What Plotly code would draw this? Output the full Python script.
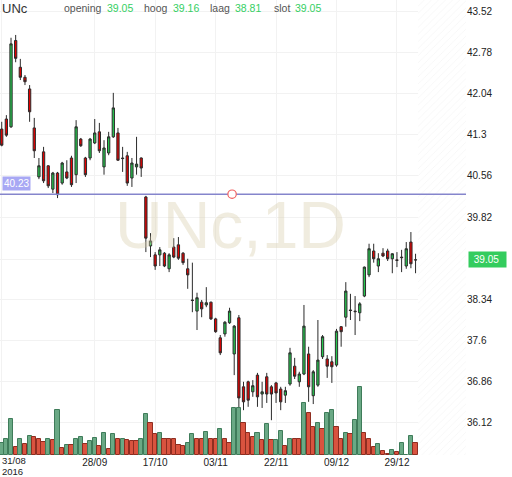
import plotly.graph_objects as go

# ---------------- data ----------------
tick_idx = [0, 20, 33, 46, 59, 72, 85]
tick_lbl = ["31/08", "28/09", "17/10", "03/11", "22/11", "09/12", "29/12"]
first_year = "2016"

opens = [41.40, 41.58, 41.44, 42.99, 42.51, 42.33, 42.12, 41.42, 40.54, 40.99,
         40.74, 40.32, 40.61, 40.43, 40.63, 40.88, 40.58, 41.22, 40.88, 40.88,
         41.15, 41.35, 40.72, 40.97, 41.26, 41.33, 40.88, 40.92, 40.52, 40.72,
         40.88, 40.18, 39.30, 39.14, 39.14, 39.17, 38.89, 39.28, 39.32, 39.17,
         38.89, 38.33, 38.13, 38.29, 38.24, 38.29, 37.99, 37.65, 37.72, 37.92,
         37.36, 38.01, 36.77, 36.86, 36.68, 36.98, 36.64, 36.95, 36.77, 36.84,
         36.73, 36.62, 36.82, 37.14, 36.86, 37.00, 37.36, 36.61, 36.80, 37.31,
         37.27, 37.22, 37.16, 37.85, 38.02, 38.15, 38.13, 38.10, 38.40, 38.78,
         39.21, 38.94, 39.17, 39.21, 39.07, 39.05, 39.10, 38.94, 39.37, 39.05]
highs = [41.53, 41.65, 43.04, 43.09, 42.66, 42.37, 42.19, 41.60, 40.88, 41.08,
         40.75, 40.63, 40.63, 40.81, 40.84, 40.92, 41.56, 41.24, 40.90, 41.24,
         41.58, 41.51, 41.20, 41.35, 42.05, 41.42, 41.08, 40.99, 40.88, 41.26,
         40.89, 40.20, 39.53, 39.19, 39.28, 39.19, 39.17, 39.44, 39.46, 39.19,
         39.07, 39.00, 38.46, 38.33, 38.56, 38.30, 38.01, 37.70, 37.95, 38.19,
         37.88, 38.06, 36.86, 36.88, 36.89, 37.02, 36.86, 37.02, 36.80, 36.86,
         36.77, 36.77, 37.47, 37.29, 37.04, 38.24, 37.49, 37.07, 37.97, 37.70,
         37.34, 37.32, 37.81, 37.86, 38.65, 38.44, 38.40, 38.29, 38.93, 39.34,
         39.34, 39.17, 39.26, 39.25, 39.17, 39.19, 39.23, 39.37, 39.55, 39.16]
lows = [41.09, 41.26, 41.42, 42.60, 42.28, 42.19, 41.53, 40.88, 40.50, 40.43,
        40.34, 40.25, 40.16, 40.40, 40.50, 40.36, 40.43, 41.08, 40.54, 40.84,
        41.13, 40.97, 40.58, 40.93, 41.24, 40.83, 40.63, 40.38, 40.36, 40.58,
        40.54, 39.19, 39.10, 38.87, 38.94, 38.92, 38.83, 39.08, 39.05, 38.96,
        38.53, 38.11, 37.79, 38.02, 38.20, 37.97, 37.74, 37.34, 37.67, 37.90,
        36.98, 36.17, 36.35, 36.41, 36.59, 36.41, 36.39, 36.48, 36.17, 36.48,
        36.35, 36.48, 36.79, 36.91, 36.77, 36.98, 36.50, 36.46, 36.77, 37.27,
        36.93, 36.84, 37.13, 37.49, 37.85, 37.97, 37.70, 37.95, 38.38, 38.74,
        39.00, 38.83, 39.10, 39.03, 38.81, 38.92, 38.83, 38.89, 38.90, 38.81]
closes = [41.11, 41.29, 42.93, 42.67, 42.33, 42.25, 41.71, 41.01, 40.74, 40.47,
          40.38, 40.61, 40.22, 40.79, 40.52, 40.40, 41.44, 41.10, 40.58, 41.22,
          41.33, 41.01, 41.06, 41.26, 41.78, 40.84, 40.87, 40.43, 40.79, 40.77,
          40.70, 39.44, 39.39, 38.94, 39.23, 38.94, 39.14, 39.10, 39.08, 39.00,
          38.78, 38.32, 38.37, 38.17, 38.28, 37.99, 37.76, 37.38, 37.93, 38.13,
          37.86, 36.57, 36.50, 36.53, 36.79, 36.59, 36.68, 36.64, 36.64, 36.66,
          36.50, 36.70, 37.38, 36.96, 37.00, 37.86, 36.77, 37.04, 37.25, 37.67,
          37.14, 37.13, 37.77, 37.76, 38.49, 38.14, 38.12, 38.26, 38.92, 39.25,
          39.07, 39.07, 39.12, 39.07, 39.16, 39.04, 39.09, 39.25, 38.98, 39.05]
# volume in millions
volume = [1.23, 1.63, 3.60, 0.80, 1.60, 1.13, 1.90, 1.80, 1.60, 1.30,
          1.60, 1.50, 4.50, 0.70, 1.00, 1.00, 1.63, 1.80, 1.13, 1.40,
          1.73, 0.90, 2.23, 0.63, 2.13, 1.60, 1.63, 1.50, 1.40, 1.40,
          1.60, 4.10, 3.20, 2.10, 2.23, 1.63, 1.60, 1.60, 1.00, 0.90,
          1.20, 2.13, 1.60, 1.60, 2.33, 1.63, 1.60, 2.60, 1.60, 1.23,
          4.73, 4.73, 3.23, 2.23, 1.80, 2.23, 1.47, 3.07, 1.47, 1.47,
          2.40, 0.90, 1.63, 1.57, 1.57, 5.17, 4.23, 2.80, 3.23, 2.57,
          4.17, 4.47, 2.80, 1.63, 2.23, 2.07, 3.47, 6.83, 2.23, 1.63,
          0.80, 1.07, 0.40, 0.13, 0.47, 0.33, 1.23, 0.00, 1.90, 1.17]
vol_up = [1, 1, 1, 0, 1, 0, 1, 0, 0, 0,
          1, 0, 1, 0, 1, 0, 1, 1, 0, 1,
          1, 0, 1, 0, 1, 0, 1, 0, 0, 0,
          1, 1, 0, 0, 1, 0, 0, 0, 0, 0,
          1, 1, 0, 0, 1, 0, 0, 1, 0, 0,
          1, 1, 0, 0, 0, 1, 0, 1, 0, 1,
          1, 0, 1, 0, 0, 1, 0, 0, 1, 0,
          1, 1, 0, 0, 1, 0, 1, 1, 0, 0,
          0, 1, 0, 0, 1, 0, 1, 1, 1, 0]

alert_level = 40.23
last = dict(o=39.05, h=39.16, l=38.81, c=39.05)
y_ticks = [43.52, 42.78, 42.04, 41.3, 40.56, 39.82, 39.05, 38.34, 37.6, 36.86, 36.12]
y_tick_txt = ["43.52", "42.78", "42.04", "41.3", "40.56", "39.82", "", "38.34", "37.6", "36.86", "36.12"]

# ---------------- figure ----------------
n = len(opens)
xs = list(range(n))
x_min, x_max = -0.37, 99.85
y_min, y_max = 35.545, 43.718
PH = 455.0  # plot height in px
W = 466.0   # plot width in px

FONT = "Arial, Liberation Sans, sans-serif"
fig = go.Figure()

# hatched "future" area
fig.add_trace(go.Scatter(
    x=[n - 0.45, x_max, x_max, n - 0.45], y=[y_min, y_min, y_max, y_max],
    fill="toself", mode="none", hoverinfo="skip", showlegend=False,
    fillcolor="rgba(255,255,255,0)",
    fillpattern=dict(shape="/", fgcolor="#e8e8e8", bgcolor="white", size=5, solidity=0.12),
))

# volume
fig.add_trace(go.Bar(
    x=xs, y=volume, yaxis="y2", width=0.9,
    marker=dict(color=["#6aa985" if u else "#d9533f" for u in vol_up],
                line=dict(color=["#3f7c5a" if u else "#8f2d20" for u in vol_up], width=1)),
    hoverinfo="skip", showlegend=False,
))

fig.add_trace(go.Candlestick(
    x=xs, open=opens, high=highs, low=lows, close=closes,
    increasing=dict(fillcolor="#27c64f", line=dict(color="#2b2b2b", width=1)),
    decreasing=dict(fillcolor="#e30000", line=dict(color="#2b2b2b", width=1)),
    whiskerwidth=0, showlegend=False,
))

fig.update_layout(
    width=512, height=477,
    margin=dict(l=0, r=46, t=0, b=22),
    paper_bgcolor="white", plot_bgcolor="white",
    font=dict(family=FONT, size=10, color="#222"),
    bargap=0,
    xaxis=dict(range=[x_min, x_max], rangeslider=dict(visible=False),
               tickvals=tick_idx, ticktext=[""] + tick_lbl[1:],
               showgrid=True, gridcolor="#f2f2f2", gridwidth=1,
               zeroline=False, showline=False, ticks="",
               tickfont=dict(size=10, color="#222")),
    yaxis=dict(range=[y_min, y_max], side="right", tickvals=y_ticks, ticktext=y_tick_txt,
               showgrid=True, gridcolor="#f2f2f2", zeroline=False, showline=False,
               ticks="", tickfont=dict(size=10, color="#222")),
    yaxis2=dict(range=[0, 45.5], overlaying="y", visible=False),
)

# watermark
fig.add_annotation(xref="paper", yref="paper", x=0.495, y=0.505, text="UNc,1D",
                   showarrow=False, font=dict(size=66, color="rgba(215,205,170,0.38)", family=FONT))

# alert line
fig.add_shape(type="line", xref="paper", yref="y", x0=0, x1=1, y0=alert_level, y1=alert_level,
              line=dict(color="#8585cc", width=1.5))
fig.add_shape(type="circle", xref="paper", yref="y", x0=0.489, x1=0.507,
              y0=alert_level - 0.075, y1=alert_level + 0.075,
              line=dict(color="#f06060", width=1.2), fillcolor="white")
fig.add_annotation(xref="paper", yref="y", x=0.004, y=alert_level + 0.2, xanchor="left",
                   text="40.23", showarrow=False, bgcolor="#a8a8f4", borderpad=1,
                   font=dict(size=10, color="white", family=FONT))

# last price tag
fig.add_annotation(xref="paper", yref="y", x=1.004, y=last["c"], xanchor="left",
                   text="&nbsp;" + f"{last['c']:.2f}" + "&nbsp;&nbsp;", showarrow=False,
                   bgcolor="#34cc5e", borderpad=2, font=dict(size=10, color="white", family=FONT))

# first date label (left aligned) + year
fig.add_annotation(xref="paper", yref="paper", x=0.0, y=1 - 460.5 / PH, xanchor="left", yanchor="middle",
                   text=tick_lbl[0], showarrow=False, font=dict(size=9.5, color="#222", family=FONT))
fig.add_annotation(xref="paper", yref="paper", x=0.0, y=1 - 471 / PH, xanchor="left", yanchor="middle",
                   text=first_year, showarrow=False, font=dict(size=9.5, color="#222", family=FONT))

# header
def hdr(px, txt, color, size=10.5):
    fig.add_annotation(xref="paper", yref="paper", x=px / W, y=1 - 8 / PH, xanchor="left",
                       yanchor="middle", text=txt, showarrow=False,
                       font=dict(size=size, color=color, family=FONT))

hdr(0, "UNc", "#333", 13)
hdr(62, "opening", "#555")
hdr(105, f"{last['o']:.2f}", "#35cf63")
hdr(142, "hoog", "#555")
hdr(171, f"{last['h']:.2f}", "#35cf63")
hdr(208, "laag", "#555")
hdr(233, f"{last['l']:.2f}", "#35cf63")
hdr(272, "slot", "#555")
hdr(293, f"{last['c']:.2f}", "#35cf63")

fig.write_html("out.html", config={"displayModeBar": False},
               post_script="document.body.style.margin='0';document.body.style.overflow='hidden';")
